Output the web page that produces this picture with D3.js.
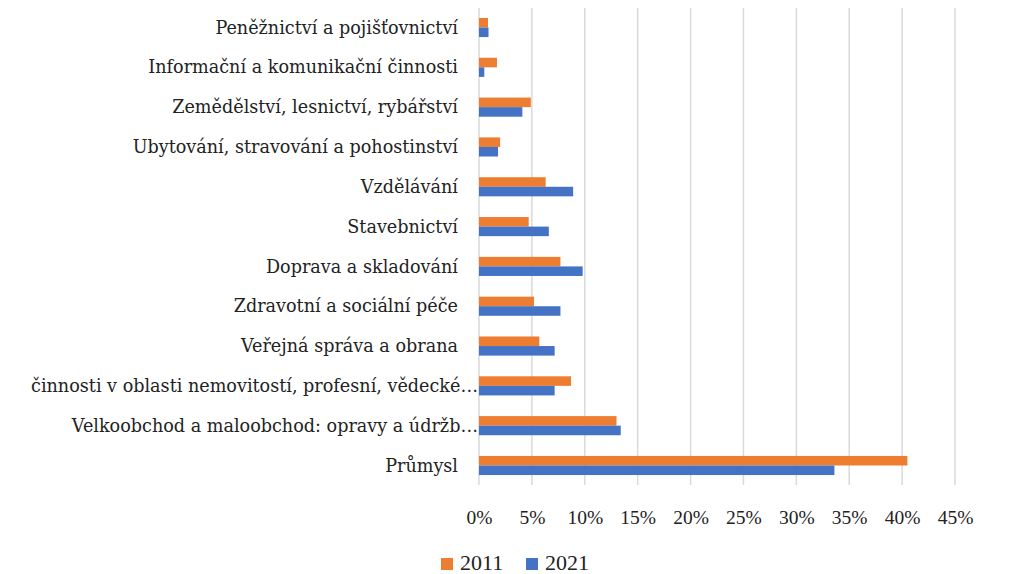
<!DOCTYPE html>
<html><head><meta charset="utf-8">
<script src="https://cdn.jsdelivr.net/npm/d3@7"></script>
<style>body{margin:0;background:#fff}svg{display:block}</style>
</head><body><svg id="c" width="1011" height="574"></svg>
<script>
const categories = ["Peněžnictví a pojišťovnictví","Informační a komunikační činnosti","Zemědělství, lesnictví, rybářství","Ubytování, stravování a pohostinství","Vzdělávání","Stavebnictví","Doprava a skladování","Zdravotní a sociální péče","Veřejná správa a obrana","činnosti v oblasti nemovitostí, profesní, vědecké…","Velkoobchod a maloobchod: opravy a údržb…","Průmysl"];
const series2011 = [0.85,1.7,4.9,2.0,6.3,4.7,7.7,5.2,5.7,8.7,13.0,40.5];
const series2021 = [0.9,0.5,4.1,1.8,8.9,6.6,9.8,7.7,7.15,7.15,13.4,33.6];
const tickValues = [0,5,10,15,20,25,30,35,40,45];
const seriesNames = ["2011","2021"];
const colors = ["#ED7D31","#4472C4"];

const svg = d3.select("#c");
const x = d3.scaleLinear().domain([0,45]).range([479,955]);
const y = d3.scaleBand().domain(categories).range([7.6,485.4]).paddingInner(0.52).paddingOuter(0.26);
const sub = d3.scaleBand().domain(seriesNames).range([0,y.bandwidth()]);

// grid
svg.append("g").selectAll("line").data(tickValues).join("line")
  .attr("x1",d=>x(d)).attr("x2",d=>x(d)).attr("y1",8).attr("y2",485)
  .attr("stroke","#d9d9d9").attr("stroke-width",1.5);

// bars
const data = [series2011, series2021];
seriesNames.forEach((s,i)=>{
  svg.append("g").selectAll("rect").data(categories).join("rect")
    .attr("x",x(0)).attr("y",c=>y(c)+sub(s))
    .attr("width",(c,j)=>x(data[i][j])-x(0)).attr("height",sub.bandwidth())
    .attr("fill",colors[i]);
});

// x axis labels
const xa = svg.append("g").attr("transform","translate(0,517)")
  .call(d3.axisBottom(x).tickValues(tickValues).tickFormat(d=>d+"%").tickSize(0))
  .attr("font-family","Liberation Serif").attr("font-size",19.5);
xa.select(".domain").remove();
xa.selectAll("text").attr("dy","0.35em").attr("y",0).attr("fill","#222");

// y labels
svg.append("g").attr("font-family","DejaVu Serif").attr("font-size",17.6).attr("fill","#222")
  .selectAll("text").data(categories).join("text")
  .attr("x",c=>c.endsWith("…")?478:458).attr("y",c=>y(c)+y.bandwidth()/2).attr("dy","0.35em")
  .attr("text-anchor","end").text(c=>c);

// legend
const lg = svg.append("g").attr("font-family","Liberation Serif").attr("font-size",22).attr("fill","#222");
const lx = [441,526];
seriesNames.forEach((s,i)=>{
  lg.append("rect").attr("x",lx[i]).attr("y",558).attr("width",12).attr("height",12).attr("fill",colors[i]);
  lg.append("text").attr("x",lx[i]+19).attr("y",562).attr("dy","0.35em").text(s);
});
</script></body></html>
